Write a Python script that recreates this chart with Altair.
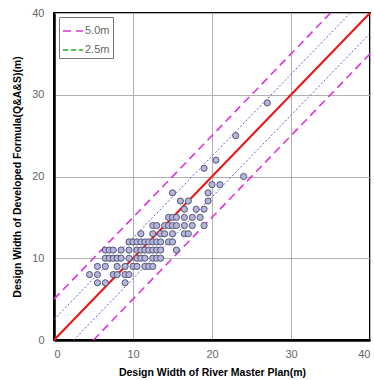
import altair as alt
import pandas as pd

# scatter points (River Master Plan width, Developed formula width)
px = [5.5, 6.5, 9,
      4.5, 5.5, 7.5, 8, 9, 9.5,
      5.5, 6.5, 8, 9, 10, 10.5, 11.5, 12, 12.5,
      6.5, 7, 7.5, 8, 8.5, 9.5, 10.5, 11, 11.5, 12.5, 13, 13.5,
      6.5, 7, 7.5, 8.5, 9.5, 10.5, 11, 11.5, 12, 12.5, 13, 13.5, 15.5,
      9.5, 10, 10.5, 11, 11.5, 12, 12.5, 13, 13.5, 14.5, 15,
      11, 12.5, 13.5, 14, 15, 16.5, 17,
      12.5, 13, 14, 14.5, 15, 15.5, 16.5, 17.5, 19,
      14.5, 15, 15.5, 16.5, 17.5, 18.5,
      16.5, 18, 19,
      16, 17, 19.5,
      15, 19.5,
      20, 21,
      24, 19, 20.5, 23, 27]
py = [7] * 3 + [8] * 6 + [9] * 9 + [10] * 12 + [11] * 13 + [12] * 11 + [13] * 7 + \
     [14] * 9 + [15] * 6 + [16] * 3 + [17] * 3 + [18] * 2 + [19] * 2 + [20, 21, 22, 25, 29]

# reference lines (segments)
ln_x1 = [0, 0, 5, 0, 2.5]
ln_y1 = [0, 5, 0, 2.5, 0]
ln_x2 = [40, 35, 40, 37.5, 40]
ln_y2 = [40, 40, 35, 40, 37.5]
ln_kind = ["1:1", "5.0m", "5.0m", "dot", "dot"]

legend_labels = ["5.0m", "2.5m"]
legend_colors = ["#dd33dd", "#22aa22"]

pts = pd.DataFrame({"x": px, "y": py})
lines = pd.DataFrame({"x": ln_x1, "y": ln_y1, "x2": ln_x2, "y2": ln_y2, "k": ln_kind})

xs = alt.Scale(domain=[0, 40], nice=False, zero=False)
ys = alt.Scale(domain=[0, 40], nice=False, zero=False)

axis_common = dict(values=[0, 10, 20, 30, 40], grid=True, gridColor="#b0b0b0", gridWidth=1,
                   ticks=False, domain=True, domainColor="black", domainWidth=2.5,
                   labelColor="#666666", labelFont="Liberation Sans", labelFontSize=11,
                   titleFont="Liberation Sans", titleFontWeight="bold", titleFontSize=10.5,
                   titleColor="black")

xaxis = alt.Axis(title="Design Width of River Master Plan(m)", labelPadding=8, titlePadding=8,
                 **axis_common)
yaxis = alt.Axis(title="Design Width of Developed Formula(Q&A&S)(m)", labelPadding=10,
                 titlePadding=9, **axis_common)

base_lines = alt.Chart(lines)

red = base_lines.transform_filter(alt.datum.k == "1:1").mark_rule(
    color="#ee1111", strokeWidth=2).encode(
    x=alt.X("x:Q", scale=xs, axis=xaxis), y=alt.Y("y:Q", scale=ys, axis=yaxis),
    x2="x2:Q", y2="y2:Q")

dots = base_lines.transform_filter(alt.datum.k == "dot").mark_rule(
    color="#6a5acd", strokeWidth=1, strokeDash=[2, 2]).encode(
    x=alt.X("x:Q", scale=xs), y=alt.Y("y:Q", scale=ys), x2="x2:Q", y2="y2:Q")

leg = dict(title=None, orient="none", legendX=5, legendY=4)

mag = base_lines.transform_filter(alt.datum.k == "5.0m").mark_rule(strokeWidth=1.6).encode(
    x=alt.X("x:Q", scale=xs), y=alt.Y("y:Q", scale=ys), x2="x2:Q", y2="y2:Q",
    color=alt.Color("k:N", scale=alt.Scale(domain=legend_labels, range=legend_colors),
                    legend=alt.Legend(symbolType="stroke", symbolSize=400, symbolStrokeWidth=1.5,
                                      labelFont="Liberation Sans", labelFontSize=11,
                                      labelColor="#666666", strokeColor="#777777",
                                      fillColor="white", padding=3, rowPadding=3,
                                      labelOffset=1, **leg)),
    strokeDash=alt.StrokeDash("k:N", scale=alt.Scale(domain=legend_labels,
                                                     range=[[8, 5], [5, 3]]),
                              legend=alt.Legend(**leg)))

points = alt.Chart(pts).mark_point(filled=True, shape="circle", size=38, fill="#b4b6dc",
                                   stroke="#55557a", strokeWidth=1, opacity=1).encode(
    x=alt.X("x:Q", scale=xs), y=alt.Y("y:Q", scale=ys))

chart = alt.layer(red, dots, mag, points).properties(
    width=316, height=327,
    autosize=alt.AutoSizeParams(type="none"),
    padding={"left": 54, "top": 13, "right": 4, "bottom": 40},
    background="white",
).configure_view(stroke="black", strokeWidth=2)

chart.save("out.html", embed_options={"renderer": "svg", "actions": False})
